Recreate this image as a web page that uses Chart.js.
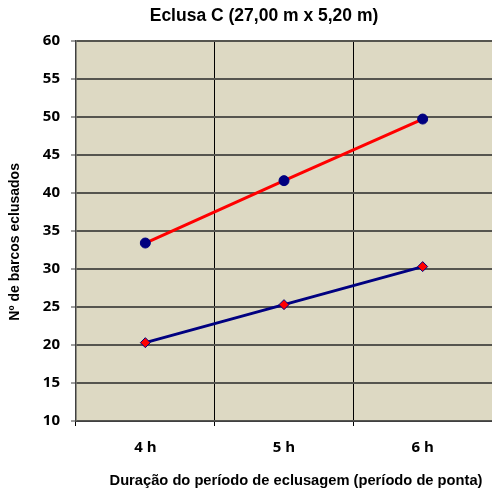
<!DOCTYPE html>
<html>
<head>
<meta charset="utf-8">
<script src="https://cdn.jsdelivr.net/npm/chart.js@4/dist/chart.umd.min.js"></script>
<style>
    html, body { margin: 0; padding: 0; background: #ffffff; }
    #wrap { width: 492px; height: 491px; }
</style>
</head>
<body>
<div id="wrap"><canvas id="chart" width="492" height="491"></canvas></div>
<script>
    // durations on the x axis
    const categories = ['4 h', '5 h', '6 h'];
    // number of boats per duration, two series
    const upperValues = [33.4, 41.6, 49.7];
    const lowerValues = [20.3, 25.3, 30.3];
    // y axis range
    const yMin = 10;
    const yMax = 60;
    const yStep = 5;

    const PLOT_BG = '#ddd9c3';
    const CHART_TITLE = 'Eclusa C (27,00 m x 5,20 m)';
    const X_TITLE = 'Duração do período de eclusagem (período de ponta)';
    const Y_TITLE = 'Nº de barcos eclusados';

    const tickFont = {family: '"Open Sans"', size: 15, weight: 'bold'};

    // beige fill behind the plot area
    const plotBackground = {
        id: 'plotBackground',
        beforeDraw(chart) {
            const {ctx, chartArea} = chart;
            ctx.save();
            ctx.fillStyle = PLOT_BG;
            ctx.fillRect(chartArea.left, chartArea.top, chartArea.right - chartArea.left, chartArea.bottom - chartArea.top);
            ctx.restore();
        }
    };

    // chart title and both axis titles
    const titles = {
        id: 'titles',
        afterDraw(chart) {
            const {ctx, chartArea} = chart;
            ctx.save();
            ctx.fillStyle = '#000000';
            ctx.textAlign = 'center';
            ctx.textBaseline = 'middle';

            ctx.font = 'bold 17.5px "Liberation Sans"';
            ctx.fillText(CHART_TITLE, chartArea.left + 188, 16);

            ctx.font = 'bold 14.7px "Liberation Sans"';
            ctx.fillText(X_TITLE, chartArea.left + 220, chartArea.bottom + 60);

            ctx.translate(15, (chartArea.top + chartArea.bottom) / 2 + 11);
            ctx.rotate(-Math.PI / 2);
            ctx.font = 'bold 14px "Liberation Sans"';
            ctx.fillText(Y_TITLE, 0, 0);
            ctx.restore();
        }
    };

    const config = {
        type: 'line',
        data: {
            labels: categories,
            datasets: [
                {
                    data: upperValues,
                    borderColor: '#ff0000',
                    borderWidth: 3,
                    pointStyle: 'circle',
                    pointRadius: 5,
                    pointBackgroundColor: '#000080',
                    pointBorderColor: '#000080',
                    pointBorderWidth: 1,
                    tension: 0
                },
                {
                    data: lowerValues,
                    borderColor: '#000080',
                    borderWidth: 3,
                    pointStyle: 'rectRot',
                    pointRadius: 5,
                    pointBackgroundColor: '#ff0000',
                    pointBorderColor: '#000080',
                    pointBorderWidth: 1,
                    tension: 0
                }
            ]
        },
        options: {
            responsive: false,
            animation: false,
            layout: {autoPadding: false, padding: {top: 40.7, right: 0, bottom: 0, left: 0}},
            plugins: {
                legend: {display: false},
                tooltip: {enabled: false},
                title: {display: false}
            },
            scales: {
                x: {
                    type: 'category',
                    offset: true,
                    grid: {
                        offset: true,
                        color: '#000000',
                        lineWidth: 1,
                        tickLength: 5,
                        drawTicks: true
                    },
                    border: {color: '#404040', width: 1},
                    ticks: {color: '#000000', font: tickFont, padding: 13},
                    afterFit(scale) {
                        scale.height = 70;
                    }
                },
                y: {
                    min: yMin,
                    max: yMax,
                    grid: {
                        color: '#55554f',
                        lineWidth: 2,
                        tickLength: 5,
                        tickColor: '#404040',
                        tickWidth: 1
                    },
                    border: {color: '#404040', width: 1.5},
                    ticks: {stepSize: yStep, color: '#000000', font: tickFont, padding: 11},
                    afterFit(scale) { scale.width = 76; }
                }
            }
        },
        plugins: [plotBackground, titles]
    };

    new Chart(document.getElementById('chart'), config);
</script>
</body>
</html>
